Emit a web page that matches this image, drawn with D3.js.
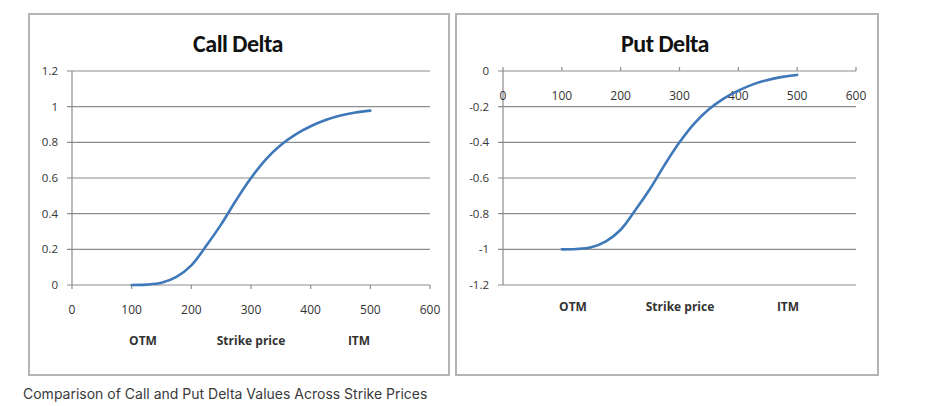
<!DOCTYPE html>
<html><head><meta charset="utf-8">
<script src="https://cdn.jsdelivr.net/npm/d3@7"></script>
<style>
html,body{margin:0;padding:0;background:#fff;}
svg{display:block;}
</style></head>
<body>
<svg id="c" width="929" height="406"></svg>
<script>
const strikes = [100,125,150,175,200,225,250,275,300,325,350,375,400,425,450,475,500];
const callDelta = [0.00,0.002,0.012,0.045,0.11,0.22,0.34,0.475,0.60,0.705,0.785,0.845,0.89,0.925,0.95,0.967,0.978];
const putDelta = [-1.00,-0.998,-0.988,-0.955,-0.89,-0.78,-0.66,-0.525,-0.40,-0.295,-0.215,-0.155,-0.11,-0.075,-0.05,-0.033,-0.022];
const xTicks = [0,100,200,300,400,500,600];
const callYTicks = [0,0.2,0.4,0.6,0.8,1,1.2];
const putYTicks = [0,-0.2,-0.4,-0.6,-0.8,-1,-1.2];
const bandLabels = ["OTM","Strike price","ITM"];
const titles = ["Call Delta","Put Delta"];
const caption = "Comparison of Call and Put Delta Values Across Strike Prices";

const svg = d3.select("#c");
const labelFont = "'Open Sans','DejaVu Sans',sans-serif";
const gridColor = "#8c8c8c";
const lineColor = "#3f78b8";

function panel(cfg){
  const g = svg.append("g");
  g.append("rect").attr("x",cfg.box[0]).attr("y",cfg.box[1]).attr("width",cfg.box[2]).attr("height",cfg.box[3])
    .attr("fill","#fff").attr("stroke","#b4b4b4").attr("stroke-width",2);
  g.append("text").attr("x",cfg.titleX).attr("y",52).attr("text-anchor","middle")
    .attr("font-family","Carlito,'Open Sans','Liberation Sans',sans-serif").attr("font-weight","bold")
    .attr("font-size",24).attr("letter-spacing",-0.5).attr("fill","#111").text(cfg.title);
  const x = d3.scaleLinear().domain([0,600]).range([cfg.x0,cfg.x1]);
  const y = d3.scaleLinear().domain(cfg.yDomain).range([285,71]);
  g.selectAll(".grid").data(cfg.yTicks).enter().append("line")
    .attr("x1",cfg.x0-5).attr("x2",cfg.x1).attr("y1",d=>y(d)).attr("y2",d=>y(d))
    .attr("stroke",gridColor).attr("stroke-width",1.2);
  g.append("line").attr("x1",cfg.x0).attr("x2",cfg.x0)
    .attr("y1",y(cfg.yDomain[1])-(cfg.tickDir<0?4:0)).attr("y2",y(cfg.yDomain[0])+(cfg.tickDir>0?4:0))
    .attr("stroke",gridColor).attr("stroke-width",1.2);
  g.selectAll(".yl").data(cfg.yTicks).enter().append("text")
    .attr("x",cfg.x0-14).attr("y",d=>y(d)+4).attr("text-anchor","end")
    .attr("font-family",labelFont).attr("font-size",11.5).attr("fill","#333")
    .text(d=>String(d));
  const ay = y(cfg.xAxisVal);
  g.selectAll(".xt").data(xTicks.slice(1)).enter().append("line")
    .attr("x1",d=>x(d)).attr("x2",d=>x(d)).attr("y1",ay).attr("y2",ay+cfg.tickDir*4)
    .attr("stroke",gridColor).attr("stroke-width",1.2);
  g.selectAll(".xl").data(xTicks).enter().append("text")
    .attr("x",d=>x(d)).attr("y",cfg.xLabelY).attr("text-anchor","middle")
    .attr("font-family",labelFont).attr("font-size",12).attr("fill","#333").text(d=>d);
  g.selectAll(".bl").data(bandLabels).enter().append("text")
    .attr("x",(d,i)=>cfg.bandX[i]).attr("y",cfg.bandY).attr("text-anchor","middle")
    .attr("font-family",labelFont).attr("font-weight","bold").attr("font-size",12).attr("fill","#333").text(d=>d);
  const line = d3.line().x((d,i)=>x(strikes[i])).y(d=>y(d)).curve(d3.curveCatmullRom);
  g.append("path").datum(cfg.values).attr("d",line).attr("fill","none")
    .attr("stroke",lineColor).attr("stroke-width",2.6).attr("stroke-linecap","round");
}

panel({box:[29,14,420,361],title:titles[0],titleX:238,x0:72,x1:430,yDomain:[0,1.2],yTicks:callYTicks,
  xAxisVal:0,tickDir:1,xLabelY:314,bandX:[143,251,359],bandY:345,values:callDelta});
panel({box:[456,14,422,361],title:titles[1],titleX:665,x0:503,x1:856,yDomain:[-1.2,0],yTicks:putYTicks,
  xAxisVal:0,tickDir:-1,xLabelY:100,bandX:[573,680,788],bandY:311,values:putDelta});

svg.append("text").attr("x",23).attr("y",399).attr("font-family","Inter,'Noto Sans',sans-serif")
  .attr("font-size",14).attr("fill","#3a3a3a").text(caption);
</script>
</body></html>
